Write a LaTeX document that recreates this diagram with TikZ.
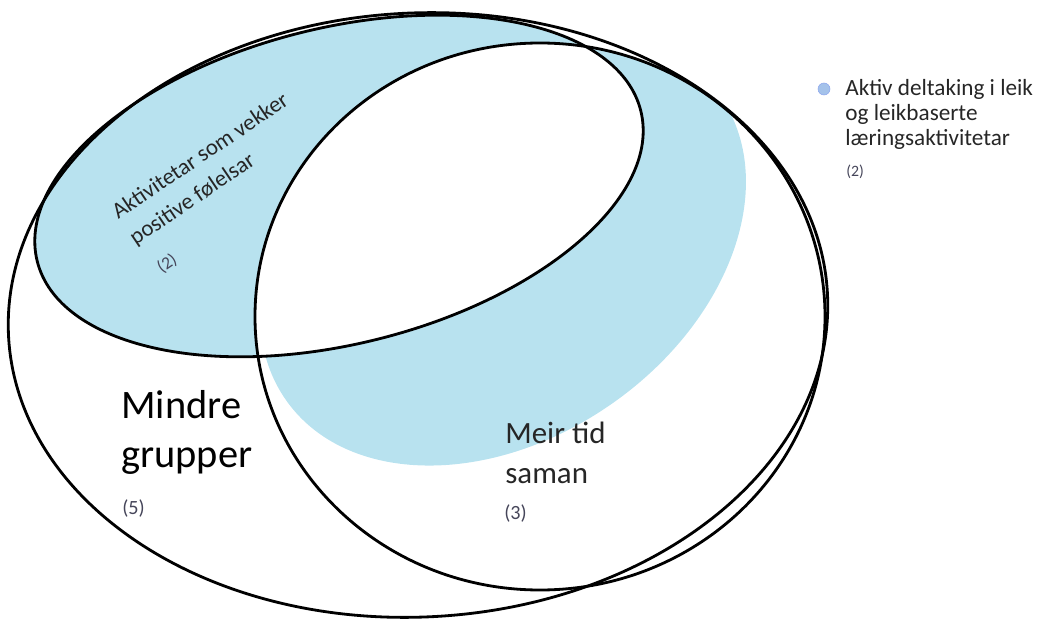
\documentclass[tikz,border=0pt]{standalone}
\usepackage{fontspec}
\setmainfont{Carlito}
\definecolor{playblue}{RGB}{184,226,239}
\definecolor{dotblue}{RGB}{164,194,234}
\definecolor{numgray}{RGB}{70,70,90}
\newcommand{\outerset}{(418,304) ellipse [x radius=410, y radius=302]}
\newcommand{\timeset}{(540,302.5) ellipse [x radius=285, y radius=273.5]}
\newcommand{\feelset}{(339,433) ellipse [x radius=311, y radius=158]}
\newcommand{\playset}{(503,371) ellipse [x radius=265, y radius=190]}
\begin{document}
\begin{tikzpicture}[
    x=0.02cm, y=0.02cm,
    setline/.style={line width=1.6pt},
    settext/.style={inner sep=0pt, anchor=base west, text=black!85},
    numtext/.style={inner sep=0pt, anchor=base west, text=numgray, font=\fontsize{11.5}{13}\selectfont}
]
\useasboundingbox (0,0) rectangle (1040,619);

% blue area (play), only inside the time set
\begin{scope}
    \clip \timeset;
    \fill[playblue, rotate around={35:(503,371)}] \playset;
\end{scope}
\fill[playblue, rotate around={14:(339,433)}] \feelset;
% feelings and time overlap stays white
\begin{scope}
    \clip[rotate around={14:(339,433)}] \feelset;
    \fill[white] \timeset;
\end{scope}

% outlines
\draw[setline, rotate around={3:(418,304)}] \outerset;
\draw[setline] \timeset;
\draw[setline, rotate around={14:(339,433)}] \feelset;

% labels
\node[settext, text=black, font=\fontsize{23}{28}\selectfont] (mindre) at (121,201) {Mindre};
\node[settext, text=black, font=\fontsize{23}{28}\selectfont] (grupper) at (121,152) {grupper};
\node[numtext] (mindrecount) at (122,105) {(5)};

\node[settext, font=\fontsize{17.6}{23}\selectfont] (meir) at (505,176) {Meir tid};
\node[settext, font=\fontsize{17.6}{23}\selectfont] (saman) at (505,136) {saman};
\node[numtext] (meircount) at (504,100) {(3)};

\begin{scope}[shift={(118,399)}, rotate=34, transform shape]
    \node[settext, font=\fontsize{13}{16}\selectfont] (feel1) at (0,0) {Aktivitetar som vekker};
    \node[settext, font=\fontsize{13}{16}\selectfont] (feel2) at (0,-31) {positive følelsar};
    \node[numtext, anchor=center, font=\fontsize{10}{12}\selectfont] (feelcount) at (16,-64) {(2)};
\end{scope}

% legend
\node[circle, inner sep=0pt, minimum size=0.24cm, fill=dotblue, draw=dotblue!85!blue, line width=0.3pt] (dot) at (824,530) {};
\node[settext, font=\fontsize{13.2}{14}\selectfont] (legend1) at (845,523.5) {Aktiv deltaking i leik};
\node[settext, font=\fontsize{13.2}{14}\selectfont] (legend2) at (845,498.5) {og leikbaserte};
\node[settext, font=\fontsize{13.2}{14}\selectfont] (legend3) at (845,473.5) {læringsaktivitetar};
\node[numtext, font=\fontsize{9}{11}\selectfont] (legendcount) at (846,442) {(2)};
\end{tikzpicture}
\end{document}
